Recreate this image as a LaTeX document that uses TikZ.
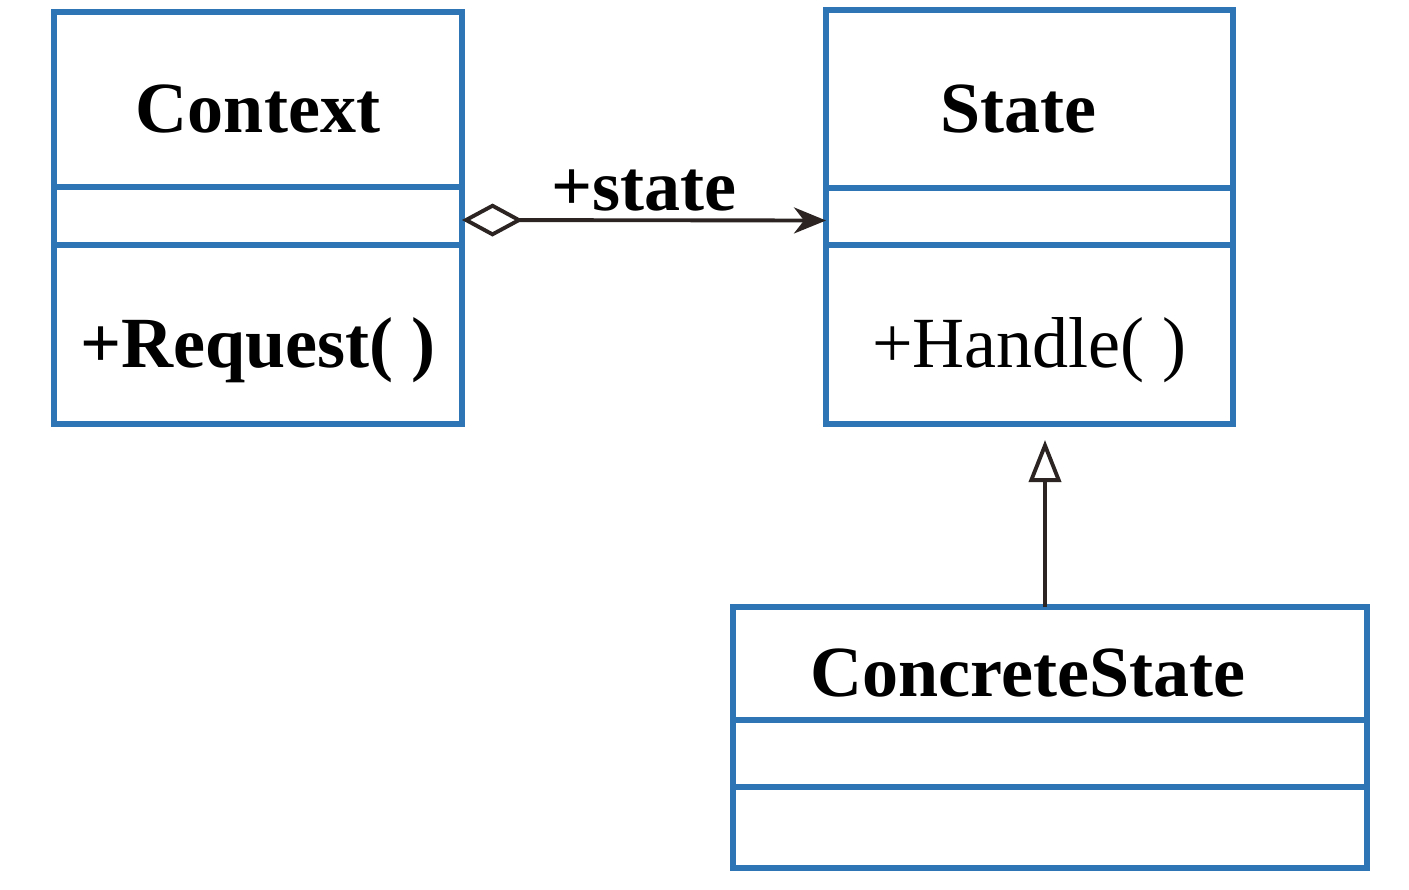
\documentclass[tikz,border=0pt]{standalone}
\usepackage{fontspec}
\setmainfont{Liberation Serif}
\usetikzlibrary{positioning,arrows.meta}
\definecolor{umlblue}{RGB}{46,117,182}
\definecolor{umlline}{RGB}{43,36,34}
\tikzset{
  part/.style={draw=umlblue, line width=1.5pt, outer sep=0pt, inner sep=0pt},
  tpart/.style={part, text height=23pt, text depth=4pt, font=\fontsize{20.5}{25}\selectfont},
  bpart/.style={tpart, font=\fontsize{20.5}{25}\selectfont\bfseries},
  link/.style={draw=umlline, line width=1.1pt}
}
\begin{document}
\begin{tikzpicture}
    \useasboundingbox (0,0) rectangle (14.09,-8.89);
    \node[bpart, anchor=north west, minimum width=4.08cm, minimum height=1.75cm] (ctx) at (0.54,-0.12) {Context};
    \node[part, minimum width=4.08cm, minimum height=0.58cm, below=0pt of ctx] (ctxattr) {};
    \node[bpart, minimum width=4.08cm, minimum height=1.79cm, below=0pt of ctxattr] (ctxop) {+Request( )};
    \node[bpart, anchor=north west, minimum width=4.07cm, minimum height=1.78cm] (st) at (8.26,-0.10) {State\hspace*{0.22cm}};
    \node[part, minimum width=4.07cm, minimum height=0.57cm, below=0pt of st] (stattr) {};
    \node[tpart, minimum width=4.07cm, minimum height=1.79cm, below=0pt of stattr] (stop) {+Handle( )};
    \node[bpart, anchor=north west, minimum width=6.34cm, minimum height=1.13cm] (cst) at (7.33,-6.07) {ConcreteState\hspace*{0.44cm}};
    \node[part, minimum width=6.34cm, minimum height=0.67cm, below=0pt of cst] (cstattr) {};
    \node[part, minimum width=6.34cm, minimum height=0.81cm, below=0pt of cstattr] (cstop) {};
    \draw[link, {Diamond[open, length=0.61cm, width=0.33cm]}-{Stealth[length=0.32cm, width=0.26cm, inset=0.1cm]}]
        ([yshift=-0.04cm]ctxattr.east) -- ([yshift=-0.04cm]stattr.west) node[midway, above, inner sep=2pt, font=\fontsize{20.5}{25}\selectfont\bfseries] (lbl) {+state};
    \draw[link, -{Triangle[open, length=0.42cm, width=0.32cm]}, shorten >=0.16cm] ([xshift=-0.05cm]cst.north) -- ([xshift=-0.05cm]cst.north |- stop.south);
\end{tikzpicture}
\end{document}
